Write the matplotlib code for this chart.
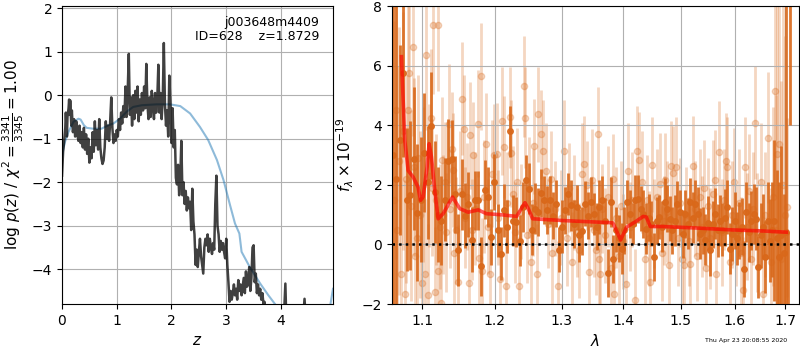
import numpy as np
import matplotlib
matplotlib.use('Agg')
import matplotlib.pyplot as plt
from matplotlib.ticker import NullLocator, NullFormatter

# redshift probability, log p(z)
pz_z = [0.00, 0.02, 0.04, 0.06, 0.07, 0.09, 0.10, 0.12, 0.13, 0.14,
        0.15, 0.17, 0.18, 0.20, 0.22, 0.24, 0.26, 0.28, 0.30, 0.32,
        0.34, 0.36, 0.38, 0.40, 0.42, 0.44, 0.46, 0.48, 0.50, 0.52,
        0.54, 0.56, 0.58, 0.60, 0.62, 0.64, 0.66, 0.68, 0.70, 0.72,
        0.74, 0.76, 0.78, 0.80, 0.82, 0.84, 0.86, 0.88, 0.90, 0.92,
        0.94, 0.96, 0.98, 1.00, 1.02, 1.04, 1.06, 1.08, 1.10, 1.12,
        1.14, 1.16, 1.18, 1.20, 1.22, 1.24, 1.26, 1.28, 1.30, 1.32,
        1.34, 1.36, 1.38, 1.40, 1.42, 1.44, 1.46, 1.48, 1.50, 1.52,
        1.54, 1.56, 1.58, 1.60, 1.62, 1.64, 1.66, 1.68, 1.70, 1.72,
        1.74, 1.76, 1.78, 1.80, 1.82, 1.84, 1.86, 1.88, 1.90, 1.92,
        1.94, 1.96, 1.98, 2.00, 2.02, 2.04, 2.06, 2.08, 2.10, 2.12,
        2.14, 2.16, 2.18, 2.20, 2.22, 2.24, 2.26, 2.28, 2.30, 2.32,
        2.34, 2.36, 2.38, 2.40, 2.42, 2.44, 2.46, 2.48, 2.50, 2.52,
        2.54, 2.56, 2.58, 2.60, 2.62, 2.64, 2.66, 2.68, 2.70, 2.72,
        2.74, 2.76, 2.78, 2.80, 2.82, 2.84, 2.86, 2.88, 2.90, 2.92,
        2.94, 2.96, 2.98, 3.00, 3.02, 3.04, 3.06, 3.08, 3.10, 3.12,
        3.14, 3.16, 3.18, 3.20, 3.22, 3.24, 3.26, 3.28, 3.30, 3.32,
        3.34, 3.36, 3.38, 3.40, 3.42, 3.44, 3.46, 3.48, 3.50, 3.52,
        3.54, 3.56, 3.58, 3.60, 3.62, 3.64, 3.66, 3.68, 3.70, 3.72,
        3.76, 3.90, 4.04, 4.08, 4.10, 4.20, 4.40, 4.43, 4.46, 4.60, 4.95]
pz_logp = [-1.85, -1.30, -1.05, -0.75, -0.40, -0.95, -0.50, -0.30, -0.10, -0.45,
           -0.12, -0.70, -0.35, -0.85, -0.55, -0.95, -0.60, -0.90, -1.05, -0.70,
           -1.10, -0.85, -1.20, -0.75, -1.25, -0.90, -1.35, -1.00, -1.55, -1.20,
           -1.45, -0.85, -1.30, -0.60, -1.15, -0.80, -1.25, -0.55, -1.20, -1.45,
           -1.58, -1.50, -1.20, -0.60, -1.00, -0.70, -1.05, -0.60, -0.05, -0.75,
           -1.10, -0.90, -1.05, -0.80, -0.95, -0.55, -0.80, -0.40, -0.65, -0.25,
           -0.50, 0.20, -0.50, 0.10, 0.95, -0.45, -0.05, -0.70, 0.00, -0.55,
           0.10, -0.40, 0.20, -0.60, -0.10, -0.45, 0.05, -0.35, 0.20, -0.30,
           0.72, -0.20, -0.55, -0.05, -0.50, 0.10, -0.25, -0.55, 0.05, -0.40,
           -0.10, 0.70, -0.40, 0.05, -0.55, -0.10, 1.20, -0.20, -0.70, -0.35,
           -0.95, 0.45, -0.20, -1.10, -0.30, -1.20, -0.80, -1.90, -2.05, -1.60,
           -2.30, -1.90, -1.05, -2.30, -2.00, -2.50, -2.20, -2.65, -2.35, -2.60,
           -2.45, -3.10, -2.15, -2.90, -3.20, -3.90, -3.55, -3.95, -3.60, -3.30,
           -3.70, -3.90, -4.10, -3.50, -3.30, -3.45, -3.20, -3.60, -3.30, -3.50,
           -3.65, -3.40, -3.55, -2.50, -1.85, -3.00, -3.20, -3.60, -3.35, -3.55,
           -3.40, -3.60, -3.75, -3.30, -3.90, -4.30, -4.75, -4.50, -4.70, -4.55,
           -4.35, -4.60, -4.45, -4.70, -4.25, -4.50, -4.35, -4.60, -4.40, -4.20,
           -4.55, -4.05, -4.40, -4.30, -3.95, -4.50, -4.20, -3.50, -3.45, -4.30,
           -4.10, -4.55, -4.35, -4.60, -4.45, -4.70, -4.55, -4.80, -4.75, -5.00,
           -5.20, -5.60, -5.50, -4.33, -5.30, -5.60, -5.20, -4.68, -5.30, -5.80, -6.00]

# smooth curve drawn under p(z)
prior_z = [0.00, 0.02, 0.06, 0.12, 0.21, 0.30, 0.34, 0.40, 0.45, 0.57,
           0.72, 0.85, 0.94, 1.06, 1.18, 1.30, 1.46, 1.73, 1.97, 2.16,
           2.34, 2.52, 2.67, 2.83, 2.95, 3.07, 3.16, 3.24, 3.28, 3.43,
           3.62, 3.77, 3.89, 4.00, 4.30, 4.60, 4.85, 4.90, 4.95]
prior_logp = [-1.43, -1.26, -1.05, -0.84, -0.61, -0.54, -0.56, -0.69, -0.75, -0.77,
              -0.77, -0.69, -0.65, -0.54, -0.38, -0.27, -0.23, -0.21, -0.21, -0.25,
              -0.42, -0.73, -1.03, -1.49, -1.95, -2.53, -2.95, -3.18, -3.60, -3.95,
              -4.33, -4.60, -4.80, -5.00, -5.40, -5.50, -5.10, -4.83, -4.45]

# combined (binned) spectrum
wave_bin = [1.0620, 1.0660, 1.0706, 1.0752, 1.0798, 1.0844, 1.0890, 1.0936, 1.0982, 1.1028,
            1.1074, 1.1120, 1.1166, 1.1212, 1.1258, 1.1304, 1.1350, 1.1396, 1.1442, 1.1488,
            1.1534, 1.1580, 1.1626, 1.1672, 1.1718, 1.1764, 1.1810, 1.1856, 1.1902, 1.1948,
            1.1994, 1.2040, 1.2086, 1.2132, 1.2178, 1.2224, 1.2270, 1.2316, 1.2362, 1.2408,
            1.2454, 1.2500, 1.2546, 1.2592, 1.2638, 1.2684, 1.2730, 1.2776, 1.2822, 1.2868,
            1.2914, 1.2960, 1.3006, 1.3052, 1.3098, 1.3144, 1.3190, 1.3236, 1.3282, 1.3328,
            1.3374, 1.3420, 1.3466, 1.3512, 1.3558, 1.3604, 1.3650, 1.3696, 1.3742, 1.3788,
            1.3834, 1.3880, 1.3926, 1.3972, 1.4018, 1.4064, 1.4110, 1.4156, 1.4202, 1.4248,
            1.4294, 1.4340, 1.4386, 1.4432, 1.4478, 1.4524, 1.4570, 1.4616, 1.4662, 1.4708,
            1.4754, 1.4800, 1.4846, 1.4892, 1.4938, 1.4984, 1.5030, 1.5076, 1.5122, 1.5168,
            1.5214, 1.5260, 1.5306, 1.5352, 1.5398, 1.5444, 1.5490, 1.5536, 1.5582, 1.5628,
            1.5674, 1.5720, 1.5766, 1.5812, 1.5858, 1.5904, 1.5950, 1.5996, 1.6042, 1.6088,
            1.6134, 1.6180, 1.6226, 1.6272, 1.6318, 1.6364, 1.6410, 1.6456, 1.6502, 1.6548,
            1.6594, 1.6640, 1.6686, 1.6732, 1.6778, 1.6824, 1.6870, 1.6916, 1.6962, 1.7008,
            1.7054, 1.7100]
flux_bin = [3.00, 2.20, 3.50, 5.75, 1.50, 1.65, 2.88, 1.06, 1.50, 3.08,
            2.09, 3.99, 1.76, 1.00, 0.80, 1.50, 2.80, 2.88, 1.68, -0.18,
            1.68, 0.97, 1.34, 0.16, 1.48, 1.48, -0.74, 1.84, 1.59, 0.25,
            2.09, 0.47, -0.31, 1.14, 0.60, 3.79, 0.80, 0.75, 0.13, 1.25,
            2.15, 1.87, 0.49, 1.20, 1.08, 1.72, 1.50, 1.16, 1.50, 0.97,
            1.37, -0.18, 0.60, 1.14, 1.70, 1.31, 0.69, 1.25, 0.30, 0.45,
            1.37, 0.97, 1.42, 1.03, 0.60, 1.25, 1.48, 0.80, -0.96, 1.42,
            -0.48, 0.50, 0.20, -0.14, 0.47, 1.42, 1.03, 0.70, 1.48, 1.53,
            1.20, 1.03, 0.53, 0.90, 0.70, -0.42, 0.80, 0.92, 0.60, 1.42,
            1.20, 0.86, 0.47, 0.80, 1.34, 1.08, 0.36, 1.03, 0.70, 1.42,
            0.90, 1.37, 1.03, 0.36, 0.47, 0.16, 0.72, -0.20, 0.67, 1.03,
            0.47, 0.80, 0.50, 0.90, 1.25, -0.14, 0.36, 0.80, 0.20, 0.47,
            0.60, -0.82, 1.08, 0.40, 0.80, 1.03, 0.86, -0.76, 0.30, 0.60,
            -0.42, 0.80, 0.13, 0.50, 0.80, 0.20, -0.42, 0.30, -0.30, 0.40,
            -3.00, 8.50]
err_bin = [9.00, 6.00, 3.20, 2.80, 2.40, 2.50, 2.40, 2.30, 2.10, 2.00,
           1.90, 1.80, 1.70, 1.60, 1.50, 1.40, 1.40, 1.30, 1.30, 1.20,
           1.20, 1.10, 1.10, 1.10, 1.00, 1.00, 1.00, 1.00, 1.00, 0.95,
           0.95, 0.90, 0.90, 0.90, 0.90, 0.85, 0.85, 0.85, 0.85, 0.85,
           0.85, 0.85, 0.85, 0.85, 0.80, 0.80, 0.80, 0.80, 0.80, 0.80,
           0.80, 0.75, 0.90, 0.80, 0.70, 0.85, 0.80, 0.75, 0.90, 0.80,
           0.75, 0.80, 0.85, 0.70, 0.80, 0.90, 0.80, 0.75, 0.80, 0.85,
           0.80, 0.75, 0.80, 0.85, 0.80, 0.75, 0.80, 0.70, 0.85, 0.80,
           0.75, 0.80, 0.85, 0.80, 0.75, 0.80, 0.80, 0.75, 0.85, 0.80,
           0.80, 0.75, 0.80, 0.85, 0.80, 0.75, 0.80, 0.80, 0.85, 0.80,
           0.85, 0.80, 0.90, 0.85, 0.80, 0.85, 0.90, 0.85, 0.80, 0.85,
           0.90, 0.85, 0.90, 0.95, 0.90, 0.85, 0.90, 0.95, 0.90, 0.95,
           0.95, 0.95, 1.00, 1.00, 1.00, 1.00, 1.05, 1.05, 1.10, 1.10,
           1.20, 1.30, 1.40, 1.60, 2.70, 2.30, 2.50, 3.00, 2.00, 9.00,
           3.40, 4.50]

# individual beam spectra
wave_raw = [1.0630, 1.0655, 1.0680, 1.0705, 1.0730, 1.0755, 1.0778, 1.0795, 1.0813, 1.0829,
            1.0850, 1.0874, 1.0895, 1.0912, 1.0930, 1.0950, 1.0970, 1.0996, 1.1015, 1.1039,
            1.1052, 1.1075, 1.1095, 1.1119, 1.1135, 1.1151, 1.1172, 1.1190, 1.1209, 1.1218,
            1.1235, 1.1253, 1.1263, 1.1280, 1.1299, 1.1320, 1.1354, 1.1375, 1.1399, 1.1409,
            1.1430, 1.1454, 1.1482, 1.1505, 1.1536, 1.1560, 1.1580, 1.1605, 1.1629, 1.1651,
            1.1675, 1.1698, 1.1720, 1.1759, 1.1777, 1.1806, 1.1825, 1.1850, 1.1872, 1.1900,
            1.1938, 1.1957, 1.1983, 1.2026, 1.2050, 1.2074, 1.2107, 1.2136, 1.2157, 1.2185,
            1.2219, 1.2234, 1.2260, 1.2300, 1.2330, 1.2353, 1.2390, 1.2432, 1.2442, 1.2470,
            1.2500, 1.2530, 1.2560, 1.2582, 1.2619, 1.2643, 1.2683, 1.2719, 1.2755, 1.2790,
            1.2830, 1.2860, 1.2900, 1.2950, 1.2990, 1.3044, 1.3080, 1.3120, 1.3160, 1.3200,
            1.3240, 1.3280, 1.3331, 1.3363, 1.3402, 1.3439, 1.3483, 1.3520, 1.3550, 1.3581,
            1.3591, 1.3613, 1.3650, 1.3700, 1.3750, 1.3790, 1.3826, 1.3842, 1.3880, 1.3920,
            1.3960, 1.4000, 1.4040, 1.4080, 1.4120, 1.4150, 1.4190, 1.4235, 1.4264, 1.4319,
            1.4360, 1.4400, 1.4430, 1.4460, 1.4489, 1.4530, 1.4570, 1.4622, 1.4660, 1.4690,
            1.4721, 1.4760, 1.4790, 1.4822, 1.4857, 1.4917, 1.4950, 1.4990, 1.5020, 1.5062,
            1.5100, 1.5140, 1.5172, 1.5222, 1.5260, 1.5300, 1.5340, 1.5380, 1.5420, 1.5460,
            1.5500, 1.5540, 1.5580, 1.5622, 1.5645, 1.5703, 1.5750, 1.5790, 1.5829, 1.5846,
            1.5900, 1.5940, 1.5985, 1.6030, 1.6080, 1.6120, 1.6165, 1.6198, 1.6240, 1.6280,
            1.6320, 1.6360, 1.6394, 1.6440, 1.6506, 1.6558, 1.6600, 1.6658, 1.6700, 1.6740,
            1.6792, 1.6820, 1.6839, 1.6880, 1.6910, 1.6950, 1.7000, 1.7043]
flux_raw = [1.50, 4.50, 0.50, 2.80, -1.00, 3.80, -1.65, 2.20, 4.50, 5.75,
            1.30, 6.64, 2.60, -0.40, 0.20, 2.90, 1.00, -1.30, 2.00, -0.98,
            6.34, -1.71, 2.30, 4.25, 1.90, 7.35, -1.60, 1.50, 7.35, -0.90,
            0.60, -1.95, 2.84, 1.00, 2.10, 0.40, 4.05, 1.20, 3.21, 2.50,
            -0.30, 0.47, -1.26, 1.80, 4.89, 3.88, 0.90, 1.60, -1.30, 3.66,
            0.50, 2.99, 1.20, 4.05, -0.44, 5.64, -0.90, 1.60, 3.38, 0.60,
            -0.98, 2.37, 3.00, 3.04, 0.90, -1.15, 4.14, 3.27, -1.38, 1.40,
            4.27, 3.06, 1.70, 0.40, 2.10, -1.41, 1.10, 5.30, 4.25, 0.30,
            1.90, -0.60, 1.40, 3.29, -1.00, 4.36, 3.69, 3.13, 2.46, 0.70,
            2.20, -0.30, 1.20, -1.38, 0.90, 3.15, 0.20, 1.90, -0.60, 1.40,
            0.40, -0.20, 2.37, 2.71, 1.98, -0.93, 2.17, 0.50, -0.20, 3.69,
            -0.48, -0.98, 1.20, 0.30, 1.60, -0.80, 2.20, -1.65, 0.90, -0.40,
            1.30, 0.10, -1.34, 2.48, 0.60, 1.50, -1.85, 3.15, 2.84, 2.09,
            -0.50, 1.50, 0.20, -1.26, 2.68, 0.70, 1.60, 2.04, -0.30, 0.80,
            2.15, 1.10, -0.70, 2.64, 2.39, 2.59, 0.20, 1.40, -0.50, -0.70,
            1.00, 0.10, -0.65, 2.62, 1.20, -0.40, 1.60, 0.60, 1.90, -0.80,
            1.30, 0.20, 1.70, 2.15, -0.98, 3.10, 0.40, 1.50, 2.80, 2.59,
            -0.60, 1.00, 2.09, 0.30, 1.40, -0.30, -1.54, 2.59, 0.60, 1.80,
            -0.50, 1.20, 4.08, 0.40, 2.09, -1.65, 1.00, 3.58, -0.60, 1.60,
            5.14, 0.50, 3.04, 3.36, -0.50, 2.00, 1.00, 1.25]
err_raw = [6.0, 5.0, 5.5, 4.5, 4.5, 4.0, 3.8, 3.5, 3.5, 3.2,
           3.2, 3.0, 3.0, 3.0, 2.8, 2.8, 2.8, 2.6, 2.6, 2.5,
           2.5, 2.4, 2.4, 2.3, 2.3, 2.3, 2.2, 2.2, 2.2, 2.2,
           2.1, 2.1, 2.1, 2.0, 2.0, 2.0, 2.0, 2.0, 1.9, 1.9,
           1.9, 1.8, 1.9, 2.0, 1.9, 1.8, 1.7, 1.8, 1.9, 1.8,
           1.7, 1.8, 1.9, 1.8, 1.7, 1.8, 1.8, 1.9, 1.7, 1.6,
           1.7, 1.8, 1.7, 1.7, 1.6, 1.7, 1.8, 1.7, 1.6, 1.7,
           1.7, 1.8, 1.6, 1.7, 1.8, 1.7, 1.6, 1.7, 1.7, 1.6,
           1.7, 1.6, 1.8, 1.6, 1.7, 1.6, 1.5, 1.7, 1.6, 1.5,
           1.6, 1.7, 1.6, 1.5, 1.6, 1.7, 1.6, 1.5, 1.7, 1.6,
           1.5, 1.6, 1.7, 1.6, 1.5, 1.6, 1.7, 1.6, 1.5, 1.6,
           1.6, 1.7, 1.5, 1.6, 1.7, 1.6, 1.5, 1.6, 1.7, 1.6,
           1.5, 1.6, 1.7, 1.6, 1.5, 1.6, 1.7, 1.5, 1.6, 1.7,
           1.6, 1.5, 1.6, 1.7, 1.6, 1.5, 1.6, 1.7, 1.6, 1.5,
           1.6, 1.7, 1.6, 1.5, 1.6, 1.7, 1.6, 1.5, 1.6, 1.7,
           1.6, 1.5, 1.6, 1.7, 1.6, 1.5, 1.6, 1.7, 1.6, 1.7,
           1.6, 1.7, 1.8, 1.7, 1.6, 1.7, 1.8, 1.7, 1.6, 1.7,
           1.7, 1.8, 1.8, 1.7, 1.8, 1.9, 1.8, 1.7, 1.8, 1.9,
           1.8, 1.9, 1.9, 2.0, 2.0, 2.1, 2.1, 2.2, 2.5, 3.0,
           3.5, 4.5, 5.5, 5.5, 6.0, 6.5, 6.0, 3.0]

# best-fit model
model_wave = [1.0731, 1.0744, 1.0774, 1.0817, 1.0882, 1.0947, 1.0979, 1.1013, 1.1066, 1.1092,
              1.1124, 1.1168, 1.1213, 1.1280, 1.1408, 1.1508, 1.1624, 1.1764, 1.1882, 1.2074,
              1.2319, 1.2442, 1.2492, 1.2558, 1.3028, 1.3776, 1.3826, 1.3954, 1.4054, 1.4196,
              1.4338, 1.4390, 1.4460, 1.4686, 1.5287, 1.5910, 1.6560, 1.7020]
model_flux = [6.30, 5.40, 3.49, 2.48, 2.26, 1.92, 1.48, 1.59, 2.60, 3.38,
              2.93, 1.81, 0.86, 1.03, 1.59, 1.20, 1.08, 1.16, 1.03, 1.00,
              0.94, 1.40, 1.20, 0.86, 0.80, 0.73, 0.72, 0.15, 0.58, 0.75,
              0.94, 0.92, 0.60, 0.60, 0.55, 0.49, 0.45, 0.41]

orange = '#d9681a'

fig = plt.figure(figsize=(8, 3.5), dpi=100)

# left panel: p(z)
ax = fig.add_axes([0.0775, 0.1314, 0.33875, 0.8514])
ax.plot(prior_z, prior_logp, color='tab:blue', alpha=0.5, lw=1.5)
ax.plot(pz_z, pz_logp, color='k', alpha=0.75, lw=1.8)
ax.set_xlim(0, 4.95)
ax.set_ylim(-4.8, 2.05)
ax.set_xticks([0, 1, 2, 3, 4])
ax.set_yticks([-4, -3, -2, -1, 0, 1, 2])
ax.grid()
ax.set_xlabel(r'$z$', fontsize=11)
ax.set_ylabel(r'log $p(z)$ / $\chi^2=\frac{3341}{3345}=1.00$', fontsize=11)
ax.tick_params(labelsize=10)
ax.text(0.95, 0.965, 'j003648m4409\nID=628    z=1.8729', ha='right', va='top',
        fontsize=9, linespacing=1.1, transform=ax.transAxes)

# right panel: spectrum
ax2 = fig.add_axes([0.49, 0.1314, 0.50875, 0.8514])
ax2.errorbar(wave_raw, flux_raw, yerr=err_raw, fmt='o', color=orange, alpha=0.27,
             markersize=4.5, elinewidth=2, capsize=0, zorder=1)
ax2.errorbar(wave_bin, flux_bin, yerr=err_bin, fmt='o', color=orange, alpha=0.9,
             markersize=4, elinewidth=2, capsize=0, zorder=2)
xlim = [1.061, 1.728]
ax2.plot(xlim, [0, 0], color='k', linestyle=':', lw=1.8, zorder=3)
ax2.plot(model_wave, model_flux, color='r', alpha=0.65, lw=2.6, zorder=4)
ax2.set_xscale('log')
ax2.set_xlim(xlim)
ax2.set_ylim(-2, 8)
ticks = [1.1, 1.2, 1.3, 1.4, 1.5, 1.6, 1.7]
ax2.set_xticks(ticks)
ax2.set_xticklabels(['{:.1f}'.format(t) for t in ticks])
ax2.xaxis.set_minor_locator(NullLocator())
ax2.xaxis.set_minor_formatter(NullFormatter())
ax2.set_yticks([-2, 0, 2, 4, 6, 8])
ax2.grid()
ax2.set_xlabel(r'$\lambda$', fontsize=11)
ax2.set_ylabel(r'$f_\lambda \times 10^{-19}$', fontsize=11)
ax2.tick_params(labelsize=10)

fig.text(0.984, 0.02, 'Thu Apr 23 20:08:55 2020', ha='right', va='bottom', fontsize=4.5)

fig.savefig('out.png', dpi=100)
